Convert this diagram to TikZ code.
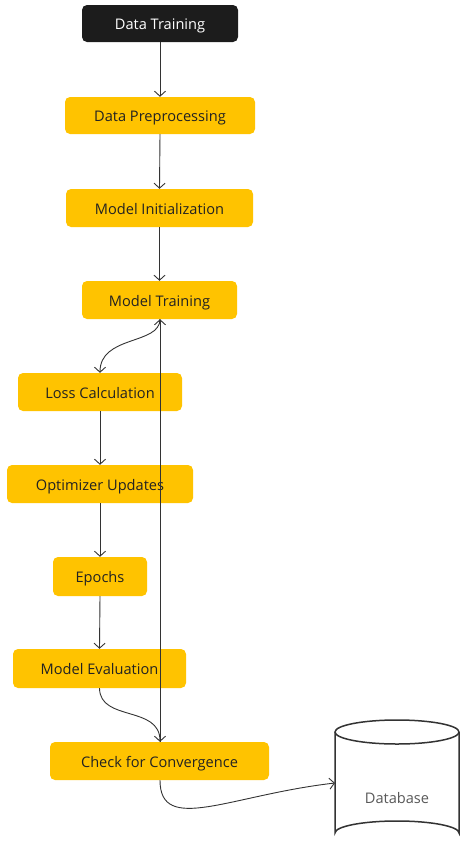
\documentclass[tikz,border=0pt]{standalone}
\usepackage{fontspec}
\setmainfont{Open Sans}
\usetikzlibrary{arrows.meta}
\definecolor{boxyellow}{HTML}{FFC300}
\definecolor{boxblack}{HTML}{1C1C1C}
\definecolor{linegray}{HTML}{333333}
\definecolor{txt}{HTML}{222222}
\tikzset{
  basebox/.style={rounded corners=5pt, font=\fontsize{14.6}{17}\selectfont, inner sep=0pt, text height=13pt, text depth=1pt},
  ybox/.style={basebox, fill=boxyellow, text=txt},
  bbox/.style={basebox, fill=boxblack, text=white},
  conn/.style={draw=linegray, line width=0.9pt, -{Straight Barb[length=5pt,width=11pt]}}
}
\begin{document}
\begin{tikzpicture}[x=1pt,y=-1pt]
\useasboundingbox (0,0) rectangle (459,847);
\node[bbox, minimum width=156pt, minimum height=37pt] (dt) at (160,23.5) {Data Training};
\node[ybox, minimum width=190pt, minimum height=37pt] (dp) at (160,115.5) {Data Preprocessing};
\node[ybox, minimum width=187pt, minimum height=38pt] (mi) at (159.5,208) {Model Initialization};
\node[ybox, minimum width=155pt, minimum height=38pt] (mt) at (159.5,300) {Model Training};
\node[ybox, minimum width=164pt, minimum height=38pt] (lc) at (100,392) {Loss Calculation};
\node[ybox, minimum width=186pt, minimum height=38pt] (ou) at (100,484) {Optimizer Updates};
\node[ybox, minimum width=94pt, minimum height=39pt] (ep) at (100,576.5) {Epochs};
\node[ybox, minimum width=173pt, minimum height=39pt] (me) at (99.5,668.5) {Model Evaluation};
\node[ybox, minimum width=219pt, minimum height=38pt] (cc) at (159.5,761) {Check for Convergence};
% database cylinder
\draw[linegray, line width=1.5pt, fill=white] (335,732) -- (335,833) arc[start angle=180, end angle=360, x radius=62, y radius=12] -- (459,732);
\draw[linegray, line width=1.5pt] (397,732) ellipse[x radius=62, y radius=12];
\node[text=txt!75, font=\fontsize{14.6}{17}\selectfont, text height=13pt, text depth=1pt] (db) at (397,797) {Database};
\coordinate (dbw) at (335,783);
% connectors
\draw[conn] (dt.south) -- (dp.north);
\draw[conn] (dp.south) -- (mi.north);
\draw[conn] (mi.south) -- (mt.north);
\draw[conn] (mt.south -| 160,0) .. controls (160,345) and (100,335) .. (lc.north);
\draw[conn] (lc.south) -- (ou.north);
\draw[conn] (ou.south) -- (ep.north);
\draw[conn] (ep.south) -- (me.north);
\draw[conn] (cc.north -| 160,0) -- (mt.south -| 160,0);
\draw[conn] (me.south) .. controls (100,722) and (160,705) .. (cc.north -| 160,0);
\draw[conn] (cc.south -| 160,0) .. controls (160,835) and (230,795) .. (dbw);
\end{tikzpicture}
\end{document}
